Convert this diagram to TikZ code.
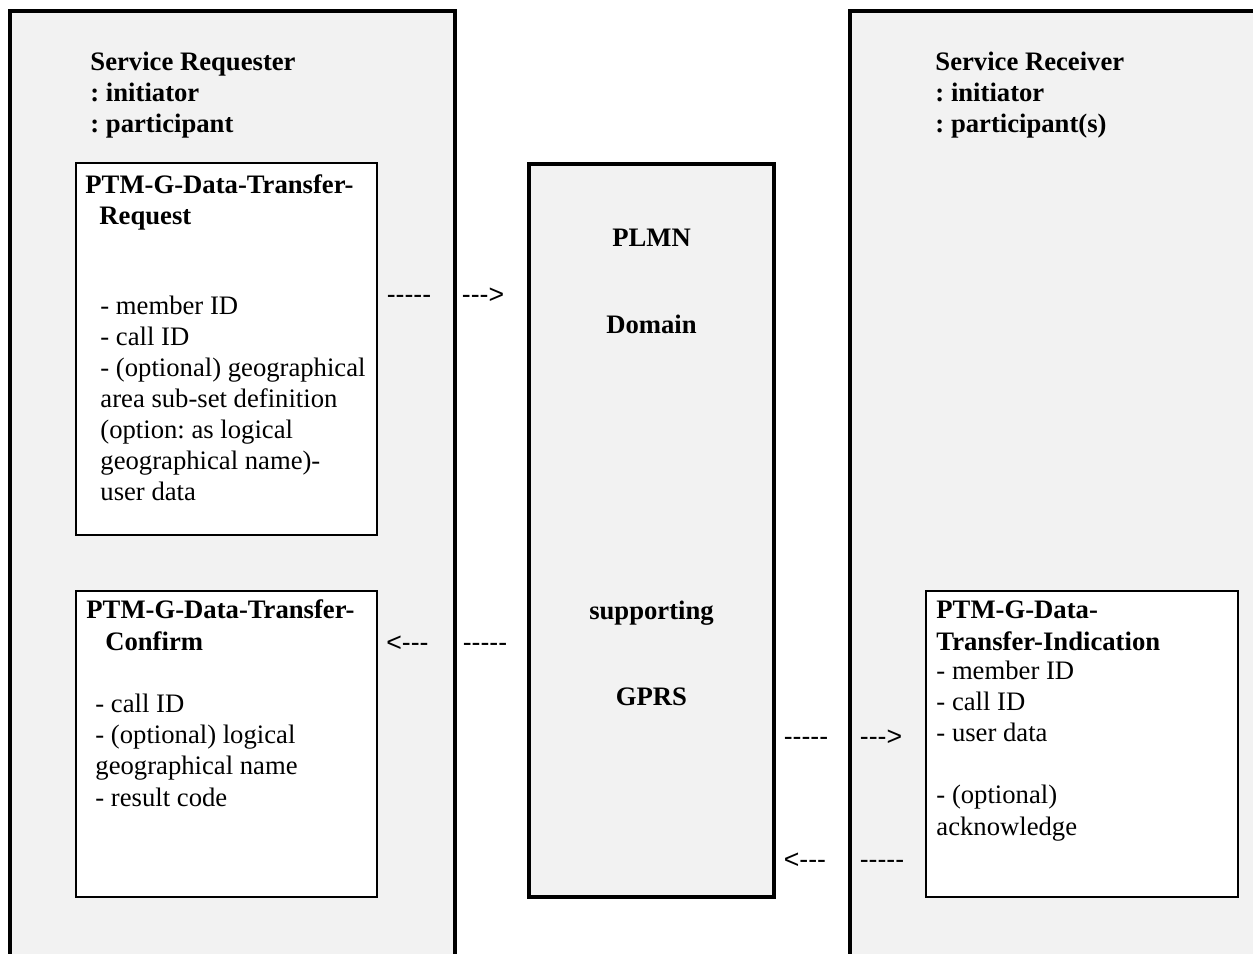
\documentclass[tikz,border=0pt]{standalone}
\usepackage{fontspec}
\setmainfont{Liberation Serif}
\newfontfamily\arialfont{Liberation Sans}
\definecolor{panelgrey}{RGB}{242,242,242}
\frenchspacing
\begin{document}
\begin{tikzpicture}[x=0.45pt,y=-0.45pt,
	panelline/.style={draw, line width=1.8pt},
	msgbox/.style={draw, line width=1.1pt, fill=white},
	headtext/.style={anchor=base west, align=left, inner sep=0pt, font=\fontsize{12}{14}\selectfont\bfseries},
	bodytext/.style={anchor=base west, align=left, inner sep=0pt, font=\fontsize{12}{14}\selectfont},
	midtext/.style={anchor=base, inner sep=0pt, font=\fontsize{12}{14}\selectfont\bfseries},
	dashtext/.style={anchor=base, inner sep=0pt, font=\arialfont\fontsize{12}{14}\selectfont}]
	\useasboundingbox (0,0) rectangle (1253,954);
	% (base of a text block = base of its last line)
	
	% requester side
	\fill [panelgrey] (9.5,11.5) rectangle (454.5,990);
	\draw [panelline] (9.5,990) -- (9.5,11.5) -- (454.5,11.5) -- (454.5,990);
	\node [headtext] (reqhead) at (90,133) {Service Requester\\: initiator\\: participant};
	
	\draw [msgbox] (76,163) rectangle (377,535);
	\node [headtext] (reqtitle) at (85,225) {PTM-G-Data-Transfer-\\\hspace*{6.3pt}Request};
	\node [bodytext] (reqbody) at (100,501) {- member ID\\- call ID\\- (optional) geographical\\area sub-set definition\\(option: as logical\\geographical name)-\\user data};
	
	\draw [msgbox] (76,591) rectangle (377,897);
	\node [headtext] (conftitle) at (86,650) {PTM-G-Data-Transfer-\\\hspace*{8.5pt}Confirm};
	\node [bodytext] (confbody) at (95,806) {- call ID\\- (optional) logical\\geographical name\\- result code};
	
	% PLMN in the middle
	\draw [panelline, fill=panelgrey] (529,164) rectangle (774,897);
	\node [midtext] (plmn) at (651.5,247) {PLMN};
	\node [midtext] (domain) at (651.5,334) {Domain};
	\node [midtext] (supp) at (651.5,619) {supporting};
	\node [midtext] (gprs) at (651.5,705) {GPRS};
	
	% receiver side
	\fill [panelgrey] (850,11.5) rectangle (1290,990);
	\draw [panelline] (850,990) -- (850,11.5) -- (1290,11.5);
	\node [headtext] (rechead) at (935,133) {Service Receiver\\: initiator\\: participant(s)};
	
	\draw [msgbox] (926,591) rectangle (1238,897);
	\node [headtext] (indtitle) at (936,650) {PTM-G-Data-\\Transfer-Indication};
	\node [bodytext] (indbody) at (936,835) {- member ID\\- call ID\\- user data\\[14pt]- (optional)\\acknowledge};
	
	% the flows, written as text
	\node [dashtext] (reqout) at (409,304) {-----};
	\node [dashtext] (reqin) at (483,304) {--->};
	\node [dashtext] (confin) at (407.5,651) {<---};
	\node [dashtext] (confout) at (485,651) {-----};
	\node [dashtext] (indout) at (806,745) {-----};
	\node [dashtext] (indin) at (881,745) {--->};
	\node [dashtext] (ackin) at (805,868) {<---};
	\node [dashtext] (ackout) at (882,868) {-----};
\end{tikzpicture}
\end{document}
